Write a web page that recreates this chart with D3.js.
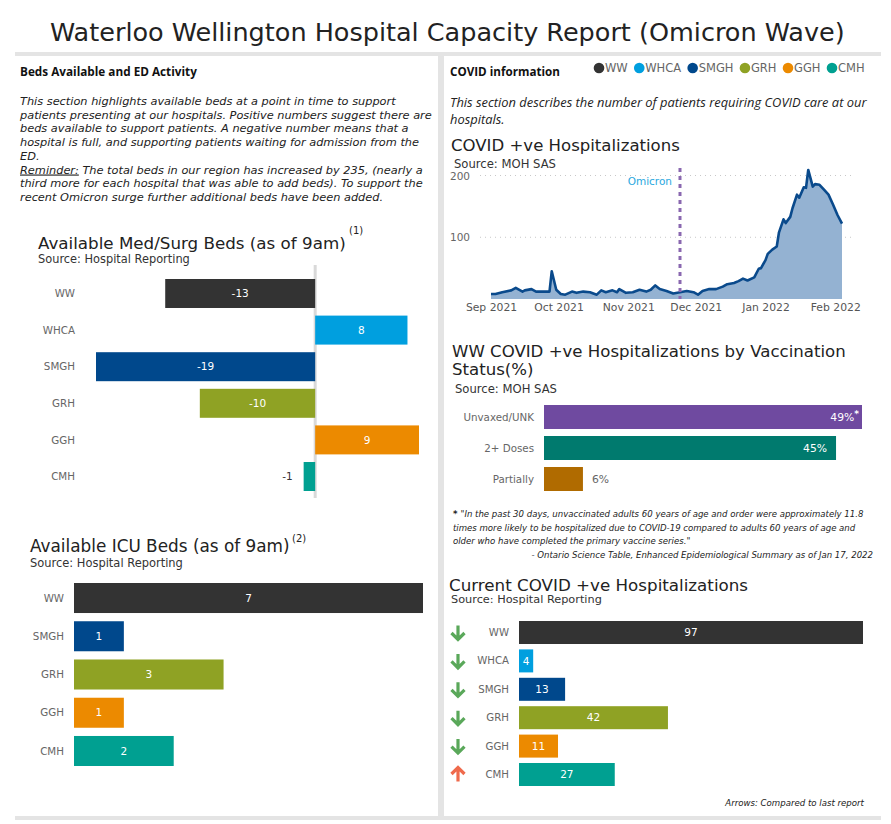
<!DOCTYPE html>
<html><head><meta charset="utf-8">
<script src="https://cdn.jsdelivr.net/npm/d3@7"></script>
<style>body{margin:0;background:#fff} svg{display:block}</style>
</head><body><svg id="c" width="891" height="824"></svg>
<script>
// ---------------- DATA ----------------
const reportTitle = "Waterloo Wellington Hospital Capacity Report (Omicron Wave)";
const hospitals = ["WW","WHCA","SMGH","GRH","GGH","CMH"];
const hospitalColors = ["#333333","#009fdf","#00488c","#8fa224","#ec8a00","#00a091"];
const medSurgValues = [-13, 8, -19, -10, 9, -1];
const icuHospitals = ["WW","SMGH","GRH","GGH","CMH"];
const icuValues = [7, 1, 3, 1, 2];
const vaxCategories = ["Unvaxed/UNK","2+ Doses","Partially"];
const vaxValues = [49, 45, 6];
const vaxMarks = ["*","",""];
const vaxColors = ["#6f4aa0","#007a6e","#b06b00"];
const currentValues = [97, 4, 13, 42, 11, 27];
const currentTrend = ["down","down","down","down","down","up"];
const hospDates = ["2021-09-01","2021-09-03","2021-09-06","2021-09-10","2021-09-12","2021-09-15","2021-09-16","2021-09-19","2021-09-21","2021-09-24","2021-09-27","2021-09-28","2021-09-30","2021-10-02","2021-10-04","2021-10-07","2021-10-09","2021-10-12","2021-10-15","2021-10-18","2021-10-20","2021-10-22","2021-10-25","2021-10-27","2021-10-28","2021-10-31","2021-11-03","2021-11-06","2021-11-09","2021-11-11","2021-11-13","2021-11-15","2021-11-18","2021-11-21","2021-11-24","2021-11-27","2021-11-30","2021-12-02","2021-12-04","2021-12-07","2021-12-10","2021-12-13","2021-12-15","2021-12-18","2021-12-20","2021-12-22","2021-12-24","2021-12-27","2021-12-29","2021-12-30","2022-01-01","2022-01-02","2022-01-04","2022-01-06","2022-01-07","2022-01-09","2022-01-10","2022-01-12","2022-01-13","2022-01-15","2022-01-16","2022-01-18","2022-01-19","2022-01-20","2022-01-22","2022-01-23","2022-01-25","2022-01-27","2022-01-29","2022-01-31","2022-02-02","2022-02-04"];
const hospValues = [8,8,11,14,18,12,14,16,12,12,12,45,15,8,7,12,10,12,11,7,14,11,14,11,16,10,11,15,12,15,22,16,13,9,11,13,11,7,13,16,16,20,24,26,29,33,30,35,49,50,63,73,80,85,108,129,123,133,147,169,164,181,180,209,182,186,185,177,169,153,136,122];
const hospYTicks = [100, 200];
const hospXTicks = ["2021-09-01","2021-10-01","2021-11-01","2021-12-01","2022-01-01","2022-02-01"];
const omicronDate = "2021-11-24";
const leftParagraph = [
  "This section highlights available beds at a point in time to support",
  "patients presenting at our hospitals. Positive numbers suggest there are",
  "beds available to support patients. A negative number means that a",
  "hospital is full, and supporting patients waiting for admission from the",
  "ED.",
  "|Reminder:| The total beds in our region has increased by 235, (nearly a",
  "third more for each hospital that was able to add beds). To support the",
  "recent Omicron surge further additional beds have been added."
];
const rightParagraph = [
  "This section describes the number of patients requiring COVID care at our",
  "hospitals."
];
const footnoteLines = [
  "\"In the past 30 days, unvaccinated adults 60 years of age and order were approximately 11.8",
  "times more likely to be hospitalized due to COVID-19 compared to adults 60 years of age and",
  "older who have completed the primary vaccine series.\""
];
const footnoteSource = "- Ontario Science Table, Enhanced Epidemiological Summary as of Jan 17, 2022";

// ---------------- HELPERS ----------------
const svg = d3.select("#c");
const F = "'DejaVu Sans', Verdana, sans-serif";
const FO = "'Open Sans', sans-serif";
function fit(sel, w){
  const n = sel.node(); const cur = n.getComputedTextLength();
  const fs = parseFloat(sel.attr("font-size"));
  sel.attr("font-size", (fs * w / cur).toFixed(2));
  return fs * w / cur;
}
function txt(x, y, s, size, opts={}){
  const t = svg.append("text").attr("x", x).attr("y", y).text(s)
    .attr("font-family", opts.family || F).attr("font-size", size)
    .attr("fill", opts.fill || "#222");
  if (opts.weight) t.attr("font-weight", opts.weight);
  if (opts.style) t.attr("font-style", opts.style);
  if (opts.anchor) t.attr("text-anchor", opts.anchor);
  if (opts.width) fit(t, opts.width);
  return t;
}

// ---------------- FRAME ----------------
const frame = "#e4e4e4";
svg.append("rect").attr("x",15).attr("y",52).attr("width",866).attr("height",4).attr("fill",frame);
svg.append("rect").attr("x",438).attr("y",56).attr("width",6).attr("height",764).attr("fill",frame);
svg.append("rect").attr("x",15).attr("y",816).attr("width",866).attr("height",4).attr("fill",frame);

txt(50, 41, reportTitle, 26, {width: 795, fill:"#222"});

// ---------------- LEFT HEADER ----------------
txt(20, 75.5, "Beds Available and ED Activity", 12, {weight:"bold", family:FO, width:177, fill:"#111"});
{
  const probe = txt(20, 118.7, leftParagraph[1], 12, {style:"italic", width:412});
  const fs = probe.attr("font-size"); probe.remove();
  leftParagraph.forEach((line, i) => {
    const t = svg.append("text").attr("x",20).attr("y",105 + i*13.7)
      .attr("font-family",F).attr("font-style","italic").attr("font-size",fs).attr("fill","#222");
    const parts = line.split("|");
    parts.forEach((p, j) => {
      if (!p) return;
      const ts = t.append("tspan").text(p);
      if (j === 1) ts.attr("text-decoration","underline");
    });
  });
}

// ---------------- RIGHT HEADER ----------------
txt(450, 75.5, "COVID information", 12, {weight:"bold", family:FO, width:110, fill:"#111"});
{
  let lx = 594;
  hospitals.forEach((h, i) => {
    svg.append("circle").attr("cx", lx + 5).attr("cy", 68).attr("r", 5.3).attr("fill", hospitalColors[i]);
    const t = svg.append("text").attr("x", lx + 11).attr("y", 72).text(h)
      .attr("font-family", F).attr("font-size", 11.5).attr("fill", "#666");
    lx += 11 + t.node().getComputedTextLength() + 6.5;
  });
}
{
  const probe = txt(450, 107, rightParagraph[0], 12, {style:"italic", family:FO, width:417});
  const fs = probe.attr("font-size");
  txt(450, 124, rightParagraph[1], fs, {style:"italic", family:FO});
}

// ---------------- LINE CHART ----------------
{
  txt(451, 150.5, "COVID +ve Hospitalizations", 17, {width:229});
  txt(454, 167.5, "Source: MOH SAS", 12, {width:102, fill:"#333"});
  const parse = d3.timeParse("%Y-%m-%d");
  const data = hospDates.map((d, i) => ({date: parse(d), value: hospValues[i]}));
  const x = d3.scaleTime().domain([parse(hospDates[0]), parse(hospDates[hospDates.length-1])]).range([491, 842]);
  const y = d3.scaleLinear().domain([0, 200]).range([299, 175.5]);
  const g = svg.append("g");
  hospYTicks.forEach(v => {
    g.append("line").attr("x1", 480).attr("x2", 853).attr("y1", y(v)).attr("y2", y(v))
      .attr("stroke", "#c8c8c8").attr("stroke-width", 1).attr("stroke-dasharray", "1,4");
    g.append("text").attr("x", 470).attr("y", y(v) + 4).attr("text-anchor","end")
      .attr("font-family", F).attr("font-size", 10.5).attr("fill", "#666").text(v);
  });
  g.append("path").datum(data).attr("fill", "#94b2d2")
    .attr("d", d3.area().x(d => x(d.date)).y0(y(0)).y1(d => y(d.value)));
  g.append("path").datum(data).attr("fill", "none").attr("stroke", "#0a4a8c").attr("stroke-width", 2.6)
    .attr("stroke-linejoin","round")
    .attr("d", d3.line().x(d => x(d.date)).y(d => y(d.value)));
  const om = x(parse(omicronDate));
  g.append("line").attr("x1", om).attr("x2", om).attr("y1", 168).attr("y2", y(0))
    .attr("stroke", "#8a68b0").attr("stroke-width", 3).attr("stroke-dasharray", "4,4");
  g.append("text").attr("x", om - 8).attr("y", 185).attr("text-anchor","end")
    .attr("font-family", F).attr("font-size", 10.5).attr("fill", "#2aa8e0").text("Omicron");
  const ax = d3.axisBottom(x).tickValues(hospXTicks.map(parse)).tickFormat(d3.timeFormat("%b %Y")).tickSize(0).tickPadding(4);
  const axg = svg.append("g").attr("transform", `translate(0,${y(0)})`).call(ax);
  axg.select(".domain").remove();
  axg.selectAll("text").attr("font-family", F).attr("font-size", 10.8).attr("fill", "#555");
}

// ---------------- MED/SURG ----------------
{
  txt(38, 248.5, "Available Med/Surg Beds (as of 9am)", 18, {width:308});
  txt(349, 234, "(1)", 10, {fill:"#222"});
  txt(38, 263, "Source: Hospital Reporting", 12, {width:152, fill:"#333"});
  const x = d3.scaleLinear().domain([-19, 9]).range([96, 419]);
  const y = d3.scaleBand().domain(hospitals).range([279, 491]).paddingInner(0.208).paddingOuter(0);
  svg.append("line").attr("x1", x(0)).attr("x2", x(0)).attr("y1", 265).attr("y2", 498)
    .attr("stroke", "#d9d9d9").attr("stroke-width", 3);
  hospitals.forEach((h, i) => {
    const v = medSurgValues[i];
    const x0 = Math.min(x(0), x(v)), w = Math.abs(x(v) - x(0));
    svg.append("rect").attr("x", x0).attr("y", y(h)).attr("width", w).attr("height", y.bandwidth())
      .attr("fill", hospitalColors[i]);
    const cy = y(h) + y.bandwidth()/2;
    svg.append("text").attr("x", 75).attr("y", cy).attr("dy","0.35em").attr("text-anchor","end")
      .attr("font-family", F).attr("font-size", 10.3).attr("fill", "#666").text(h);
    const inside = w > 30;
    svg.append("text").attr("x", inside ? x0 + w/2 : x0 - 11).attr("y", cy).attr("dy","0.35em")
      .attr("text-anchor", inside ? "middle" : "end")
      .attr("font-family", F).attr("font-size", 10.5).attr("fill", inside ? "#fff" : "#333").text(v);
  });
}

// ---------------- ICU ----------------
{
  txt(30, 551.5, "Available ICU Beds (as of 9am)", 18, {width:260});
  txt(292, 542, "(2)", 10, {fill:"#222"});
  txt(30, 567, "Source: Hospital Reporting", 12, {width:153, fill:"#333"});
  const x = d3.scaleLinear().domain([0, 7]).range([74, 423]);
  const y = d3.scaleBand().domain(icuHospitals).range([583, 766]).paddingInner(0.215).paddingOuter(0);
  icuHospitals.forEach((h, i) => {
    const v = icuValues[i];
    const col = hospitalColors[hospitals.indexOf(h)];
    svg.append("rect").attr("x", x(0)).attr("y", y(h)).attr("width", x(v) - x(0)).attr("height", y.bandwidth()).attr("fill", col);
    const cy = y(h) + y.bandwidth()/2;
    svg.append("text").attr("x", 64).attr("y", cy).attr("dy","0.35em").attr("text-anchor","end")
      .attr("font-family", F).attr("font-size", 10.3).attr("fill", "#666").text(h);
    svg.append("text").attr("x", (x(0) + x(v))/2).attr("y", cy).attr("dy","0.35em").attr("text-anchor","middle")
      .attr("font-family", F).attr("font-size", 10.5).attr("fill", "#fff").text(v);
  });
}

// ---------------- VACCINATION ----------------
{
  const t1 = txt(452, 357, "WW COVID +ve Hospitalizations by Vaccination", 18, {width:394});
  txt(452, 375, "Status(%)", t1.attr("font-size"));
  txt(455, 392.5, "Source: MOH SAS", 12, {width:102, fill:"#333"});
  const x = d3.scaleLinear().domain([0, 49]).range([544, 862]);
  const y = d3.scaleBand().domain(vaxCategories).range([405, 491]).paddingInner(0.226).paddingOuter(0);
  vaxCategories.forEach((c, i) => {
    const v = vaxValues[i];
    svg.append("rect").attr("x", x(0)).attr("y", y(c)).attr("width", x(v) - x(0)).attr("height", y.bandwidth()).attr("fill", vaxColors[i]);
    const cy = y(c) + y.bandwidth()/2;
    svg.append("text").attr("x", 534).attr("y", cy).attr("dy","0.35em").attr("text-anchor","end")
      .attr("font-family", F).attr("font-size", 10.3).attr("fill", "#666").text(c);
    const w = x(v) - x(0);
    const inside = w > 60;
    const t = svg.append("text").attr("y", cy).attr("dy","0.35em")
      .attr("font-family", F).attr("font-size", 10.8).attr("fill", inside ? "#fff" : "#666");
    t.append("tspan").text(v + "%");
    if (vaxMarks[i]) t.append("tspan").attr("dy", "-0.45em").attr("font-size", 9).attr("font-weight","bold").text(vaxMarks[i]);
    if (inside) t.attr("text-anchor","end").attr("x", x(v) - (vaxMarks[i] ? 3 : 9));
    else t.attr("x", x(v) + 9);
  });
  const fn = svg.append("text").attr("x", 453).attr("y", 517).attr("font-family", F)
    .attr("font-size", 10).attr("font-style","italic").attr("fill","#222");
  fn.append("tspan").attr("font-weight","bold").attr("font-style","normal").text("* ");
  fn.append("tspan").text(footnoteLines[0]);
  fit(fn, 411);
  const fs = fn.attr("font-size");
  footnoteLines.slice(1).forEach((l, i) => txt(453, 530.7 + i*13.5, l, fs, {style:"italic", fill:"#222"}));
  txt(873, 558, footnoteSource, fs, {style:"italic", anchor:"end", fill:"#222"});
}

// ---------------- CURRENT HOSPITALIZATIONS ----------------
{
  txt(449, 590.5, "Current COVID +ve Hospitalizations", 17, {width:299});
  txt(451, 603, "Source: Hospital Reporting", 11.5, {width:151, fill:"#333"});
  const x = d3.scaleLinear().domain([0, 97]).range([519, 863]);
  const y = d3.scaleBand().domain(hospitals).range([621, 786]).paddingInner(0.19).paddingOuter(0);
  hospitals.forEach((h, i) => {
    const v = currentValues[i];
    svg.append("rect").attr("x", x(0)).attr("y", y(h)).attr("width", x(v) - x(0)).attr("height", y.bandwidth()).attr("fill", hospitalColors[i]);
    const cy = y(h) + y.bandwidth()/2;
    svg.append("text").attr("x", 509).attr("y", cy).attr("dy","0.35em").attr("text-anchor","end")
      .attr("font-family", F).attr("font-size", 10.2).attr("fill", "#666").text(h);
    svg.append("text").attr("x", (x(0) + x(v))/2).attr("y", cy).attr("dy","0.35em").attr("text-anchor","middle")
      .attr("font-family", F).attr("font-size", 10.5).attr("fill", "#fff").text(v);
    const up = currentTrend[i] === "up";
    const s = up ? -1 : 1;
    svg.append("path").attr("transform", `translate(458,${cy})`)
      .attr("d", `M0,${-7*s} L0,${7*s} M-6.5,${0.5*s} L0,${7*s} L6.5,${0.5*s}`)
      .attr("fill","none").attr("stroke", up ? "#ef6a4c" : "#5aa85a").attr("stroke-width", 3.2)
      .attr("stroke-linejoin","miter");
  });
  txt(864, 806, "Arrows: Compared to last report", 9.5, {style:"italic", anchor:"end", width:139, fill:"#222"});
}
</script>
</body></html>
